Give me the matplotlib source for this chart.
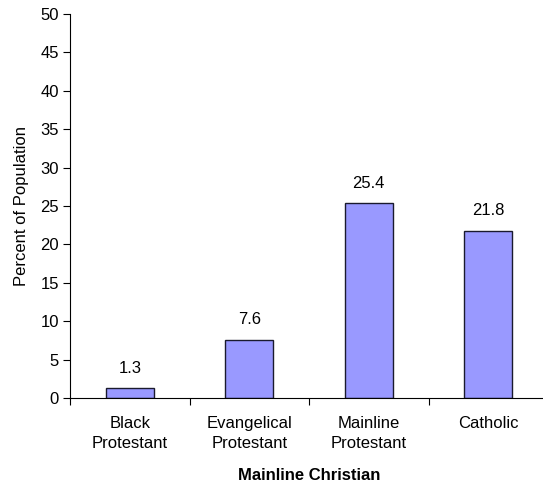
import numpy as np
import matplotlib
matplotlib.use("Agg")
import matplotlib.pyplot as plt

# Datos
categorias = ["Black\nProtestant", "Evangelical\nProtestant", "Mainline\nProtestant", "Catholic"]
valores = [1.3, 7.6, 25.4, 21.8]
yticks = [0, 5, 10, 15, 20, 25, 30, 35, 40, 45, 50]

plt.rcParams['font.family'] = ['Liberation Sans', 'DejaVu Sans']

fig = plt.figure(figsize=(5.43, 4.87), dpi=100)
W, H = 543, 487
ax = fig.add_axes([70 / W, (H - 398) / H, (548 - 70) / W, (398 - 14) / H])

x = np.arange(len(categorias))
ax.bar(x, valores, width=0.4, color="#9999ff", edgecolor="#1a1a2e", linewidth=1.0)

for xi, v in zip(x, valores):
    ax.text(xi, v + 1.6, f"{v}", ha="center", va="bottom", fontsize=12)

ax.set_xlim(-0.5, len(categorias) - 0.5)
ax.set_ylim(0, 50)
ax.set_yticks(yticks)
ax.tick_params(axis="y", labelsize=12, length=5, width=0.8, direction="out", pad=3)

# ticks entre categorias
ax.set_xticks(np.arange(-0.5, len(categorias) - 0.5, 1.0))
ax.set_xticklabels([])
ax.set_xticks(x, minor=True)
ax.set_xticklabels(categorias, minor=True, fontsize=12)
for t in ax.get_xticklabels(minor=True):
    t.set_linespacing(1.45)
ax.tick_params(axis="x", which="major", length=5, width=0.8, direction="out")
ax.tick_params(axis="x", which="minor", length=0, pad=13)

ax.spines["top"].set_visible(False)
ax.spines["right"].set_visible(False)
ax.spines["left"].set_linewidth(0.8)
ax.spines["bottom"].set_linewidth(0.8)

ax.set_ylabel("Percent of Population", fontsize=12, labelpad=8)
ax.set_xlabel("Mainline Christian", fontsize=12, fontweight="bold", labelpad=12)

fig.savefig("out.png", dpi=100)
